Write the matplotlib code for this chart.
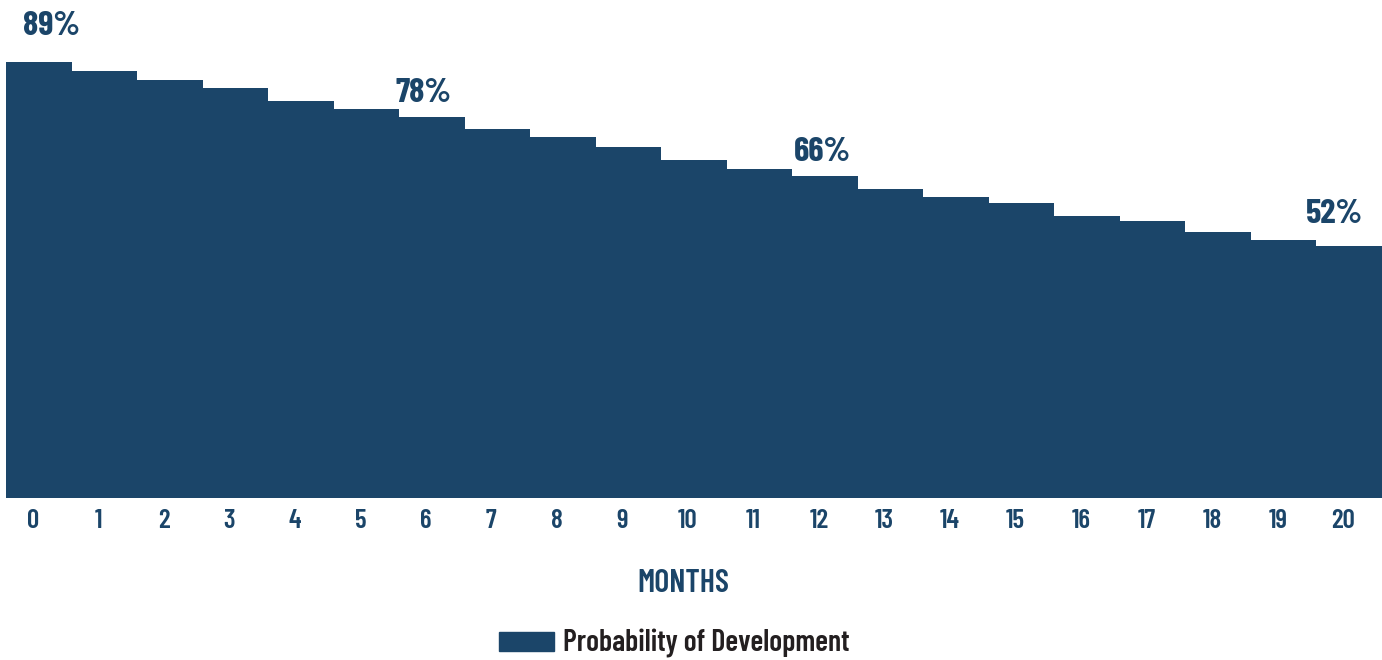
import numpy as np
import matplotlib.pyplot as plt
from matplotlib import transforms
from matplotlib.patches import Patch

months = list(range(21))
prob = [89, 87.2, 85.4, 83.8, 81.2, 79.5, 78, 75.5, 73.9, 71.9, 69.3,
        67.5, 66, 63.5, 61.9, 60.6, 58.0, 57.0, 54.8, 53.2, 52]
labelled = [0, 6, 12, 20]

navy = "#1b4569"
plt.rcParams['font.family'] = ['Barlow Condensed', 'Roboto Condensed', 'Oswald', 'DejaVu Sans']
plt.rcParams['font.weight'] = 'semibold'

fig = plt.figure(figsize=(13.82, 6.6), dpi=100)
ax = fig.add_axes([6 / 1382, 162 / 660, 1376 / 1382, 498 / 660])

ax.bar(months, prob, width=1.0, color=navy, linewidth=0)
ax.set_xlim(-0.5, 20.5)
ax.set_ylim(1.33, 101.5)

# percent labels over selected months (baseline nudges in pixels)
nudges = {0: (13, 27), 6: (-8, 15), 12: (-3, 15), 20: (-15, 23)}
for i in labelled:
    dx, dy = nudges[i]
    ax.annotate(f"{prob[i]:.0f}%", (months[i], prob[i]),
                xytext=(dx * 0.72, dy * 0.72), textcoords="offset points",
                ha="center", va="baseline", fontsize=25, color=navy,
                fontweight="bold")

ax.set_xticks(months)
ax.set_xticklabels([str(m) for m in months], fontsize=19.5, color=navy)
ax.tick_params(axis="x", length=0, pad=8)
shift = transforms.ScaledTranslation(-6 / 100, 0, fig.dpi_scale_trans)
for lbl in ax.get_xticklabels():
    lbl.set_transform(lbl.get_transform() + shift)
ax.set_yticks([])
for s in ax.spines.values():
    s.set_visible(False)

fig.text(683 / 1382, 1 - 592 / 660, "MONTHS", ha="center", va="baseline",
         fontsize=23, color=navy)

fig.legend(handles=[Patch(color=navy, label="Probability of Development")],
           loc="center", bbox_to_anchor=(674 / 1382, 1 - 644 / 660),
           frameon=False, fontsize=21.5, handlelength=1.85, handleheight=0.62,
           handletextpad=0.3, labelcolor="#231f20")

fig.savefig("out.png", dpi=100)
